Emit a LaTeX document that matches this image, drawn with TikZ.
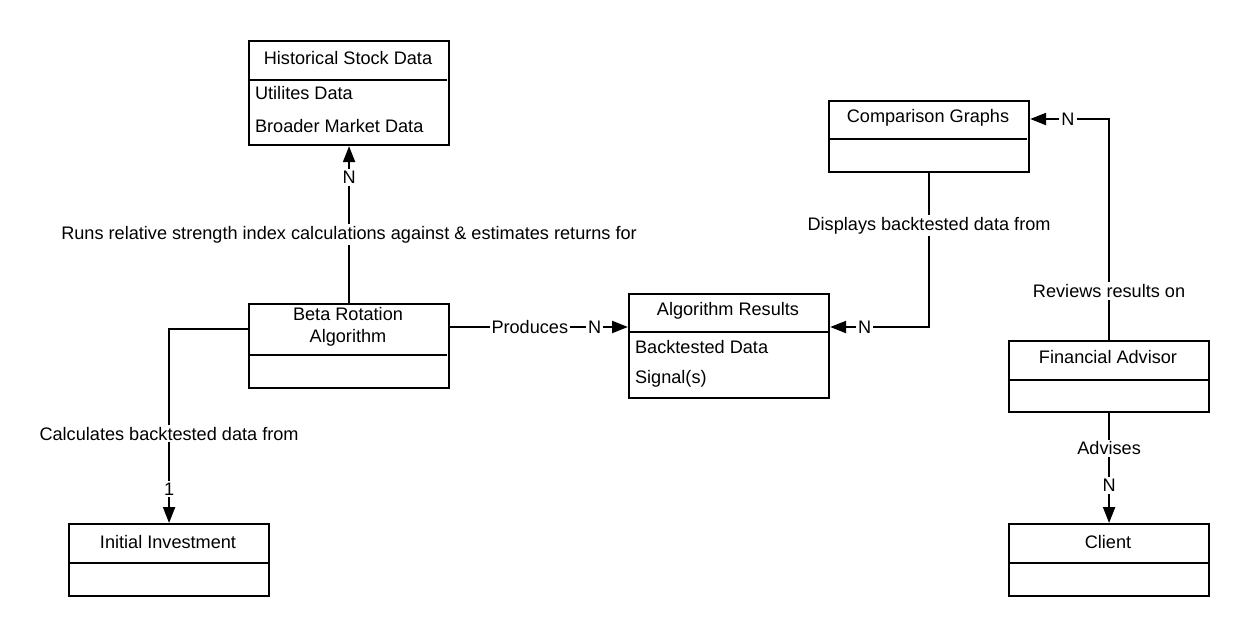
\documentclass[tikz,border=0pt]{standalone}
\usepackage{fontspec}
\setmainfont{Liberation Sans}
\usetikzlibrary{arrows.meta,calc}
\begin{document}
\begin{tikzpicture}[x=0.75pt,y=-0.75pt,
  line width=1.6pt,
  box/.style={draw,rectangle,inner sep=0pt,anchor=north west},
  ttl/.style={font=\fontsize{13.6}{16.5}\selectfont,align=center,inner sep=0pt},
  item/.style={font=\fontsize{13.6}{16.5}\selectfont,anchor=west,inner sep=0pt},
  lbl/.style={font=\fontsize{13.6}{16.5}\selectfont,fill=white,inner sep=1.5pt},
  arr/.style={-{Triangle[length=12pt,width=9pt]}}]
\useasboundingbox (0,0) rectangle (1248,636);
% boxes
\node[box,minimum width=150pt,minimum height=78pt] (hist) at (248,40) {};
\draw (248,80) -- (447,80);
\node[ttl] (histt) at (348,58) {Historical Stock Data};
\node[item] (hist1) at (254,93) {Utilites Data};
\node[item] (hist2) at (254,126) {Broader Market Data};

\node[box,minimum width=150pt,minimum height=63pt] (beta) at (248,303) {};
\draw (248,355) -- (447,355);
\node[ttl] (betat) at (348,327) {Beta Rotation\\Algorithm};

\node[box,minimum width=150pt,minimum height=78pt] (res) at (628,293) {};
\draw (628,332) -- (828,332);
\node[ttl] (rest) at (728,311) {Algorithm Results};
\node[item] (res1) at (634,347) {Backtested Data};
\node[item] (res2) at (634,379) {Signal(s)};

\node[box,minimum width=150pt,minimum height=53.25pt] (cmp) at (828,100) {};
\draw (828,139) -- (1027,139);
\node[ttl] (cmpt) at (928,118) {Comparison Graphs};

\node[box,minimum width=150pt,minimum height=53.25pt] (fa) at (1008,340) {};
\draw (1008,380) -- (1208,380);
\node[ttl] (fat) at (1108,357) {Financial Advisor};

\node[box,minimum width=150pt,minimum height=54pt] (cl) at (1008,523) {};
\draw (1008,563) -- (1208,563);
\node[ttl] (clt) at (1108,542) {Client};

\node[box,minimum width=150pt,minimum height=54pt] (init) at (68,523) {};
\draw (68,563) -- (268,563);
\node[ttl] (initt) at (168,542) {Initial Investment};

% connectors
\draw[arr] (beta.north) -- node[lbl,pos=0.434] {Runs relative strength index calculations against \& estimates returns for}
  node[lbl,pos=0.8] {N} (hist.south);
\draw[arr] ($(beta.north west)+(0,26)$) -| node[lbl,pos=0.77] {Calculates backtested data from}
  node[lbl,pos=0.912] {1} (init.north);
\draw[arr] ($(beta.north east)+(0,24)$) -- node[lbl,pos=0.448] {Produces}
  node[lbl,pos=0.812] {N} ($(res.north west)+(0,34)$);
\draw[arr] (cmp.south) |- node[lbl,pos=0.17] {Displays backtested data from}
  node[lbl,pos=0.825] {N} ($(res.north east)+(0,34)$);
\draw[arr] (fa.north) |- node[lbl,pos=0.111] {Reviews results on}
  node[lbl,pos=0.76] {N} ($(cmp.north east)+(0,19)$);
\draw[arr] (fa.south) -- node[lbl,pos=0.32] {Advises}
  node[lbl,pos=0.66] {N} (cl.north);
\end{tikzpicture}
\end{document}
